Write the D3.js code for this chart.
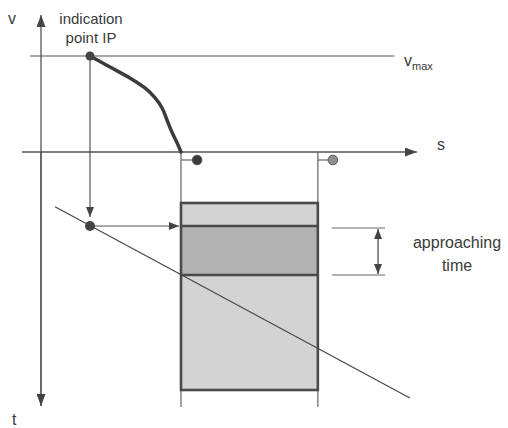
<!DOCTYPE html>
<html><head><meta charset="utf-8">
<script src="https://cdn.jsdelivr.net/npm/d3@7"></script>
<style>body{margin:0;background:#fff}svg{display:block}text{font-family:"Liberation Sans",Arial,sans-serif;fill:#3a3a3a}</style>
</head><body><svg id="c" width="508" height="428"></svg>
<script>
// ---- data (s: distance units, v: speed units, t: time units) ----
const vmax = 100;
const ipS = 14;                       // indication point position
const brakingCurveS = [14, 19.7, 25.4, 29.7, 32.6, 34.6, 36, 37.4, 38.9, 40];
const brakingCurveV = [100, 88.5, 77.1, 66.7, 56.3, 45.8, 33.3, 20.8, 9.4, 0];
const blockS = [40, 79.1];            // section start / end
const blockT = [20.4, 29.6, 49.2, 95.2]; // occupation top, approach start, approach end, bottom
const ipT = 29.6;
const timeLineS = [4, 105.4];
const timeLineT = [21.9, 98.4];
const markerS = [44.6, 83.4];
const markerT = 3.2;
const bracketS = [83.1, 98.3, 96.3];
const sAxisExtent = [-5.4, 107.4];
const vAxisTop = 142.7, tAxisBottom = 101.6;
const vmaxLineS = [-3.1, 101];
const edgeLineT = [0, 102];

const svg = d3.select("#c");
const x = d3.scaleLinear().domain([0, 100]).range([41, 391]);
const yv = d3.scaleLinear().domain([0, 100]).range([152, 56]);
const yt = d3.scaleLinear().domain([0, 100]).range([152, 402]);
const lc = "#555";

const defs = svg.append("defs");
function marker(id, w, h) {
  defs.append("marker").attr("id", id).attr("viewBox", `0 0 ${w} ${h}`)
    .attr("refX", w).attr("refY", h / 2).attr("markerWidth", w).attr("markerHeight", h)
    .attr("markerUnits", "userSpaceOnUse").attr("orient", "auto-start-reverse")
    .append("path").attr("d", `M0,0L${w},${h/2}L0,${h}Z`).attr("fill", "#444");
}
marker("ax", 12, 9);
marker("ar", 10, 8);

function line(x1, y1, x2, y2, w, col) {
  return svg.append("line").attr("x1", x1).attr("y1", y1).attr("x2", x2).attr("y2", y2)
    .attr("stroke", col || lc).attr("stroke-width", w || 1.2);
}

// block (occupation time) rectangle
const bx0 = x(blockS[0]), bx1 = x(blockS[1]);
svg.append("rect").attr("x", bx0).attr("y", yt(blockT[0])).attr("width", bx1 - bx0)
  .attr("height", yt(blockT[3]) - yt(blockT[0])).attr("fill", "#d3d3d3");
svg.append("rect").attr("x", bx0).attr("y", yt(blockT[1])).attr("width", bx1 - bx0)
  .attr("height", yt(blockT[2]) - yt(blockT[1])).attr("fill", "#b3b3b3");

// section edge lines
blockS.forEach(s => line(x(s), yt(edgeLineT[0]), x(s), yt(edgeLineT[1]), 1.2, "#666"));

// rectangle outlines
svg.append("rect").attr("x", bx0).attr("y", yt(blockT[0])).attr("width", bx1 - bx0)
  .attr("height", yt(blockT[3]) - yt(blockT[0])).attr("fill", "none").attr("stroke", "#4a4a4a").attr("stroke-width", 2.6);
[blockT[1], blockT[2]].forEach(t => line(bx0, yt(t), bx1, yt(t), 2.6, "#4a4a4a"));

// time line (diagonal)
line(x(timeLineS[0]), yt(timeLineT[0]), x(timeLineS[1]), yt(timeLineT[1]), 1.3, "#4a4a4a");

// axes
line(x(0), yt(tAxisBottom), x(0), yv(vAxisTop), 1.3).attr("marker-end", "url(#ax)");
line(x(0), yv(0), x(0), yt(tAxisBottom), 1.3).attr("marker-end", "url(#ax)");
line(x(sAxisExtent[0]), yv(0), x(sAxisExtent[1]), yv(0), 1.3).attr("marker-end", "url(#ax)");

// vmax line
line(x(vmaxLineS[0]), yv(vmax), x(vmaxLineS[1]), yv(vmax), 1.2);

// braking curve
svg.append("path").datum(brakingCurveS.map((s, i) => [s, brakingCurveV[i]]))
  .attr("d", d3.line().x(d => x(d[0])).y(d => yv(d[1])).curve(d3.curveCatmullRom))
  .attr("fill", "none").attr("stroke", "#3c3c3c").attr("stroke-width", 3.5).attr("stroke-linecap", "round");

// IP vertical arrow
line(x(ipS), yv(vmax), x(ipS), yt(ipT) - 9, 1.2).attr("marker-end", "url(#ar)");
// horizontal arrow from IP time point to block
line(x(ipS), yt(ipT), x(blockS[0]) - 2, yt(ipT), 1.2).attr("marker-end", "url(#ar)");

// IP dots
svg.append("circle").attr("cx", x(ipS)).attr("cy", yv(vmax)).attr("r", 4.5).attr("fill", "#444");
svg.append("circle").attr("cx", x(ipS)).attr("cy", yt(ipT)).attr("r", 5).attr("fill", "#444");

// section markers
markerS.forEach((s, i) => {
  line(x(blockS[i]), yt(markerT), x(s), yt(markerT), 1.2, "#666");
  svg.append("circle").attr("cx", x(s)).attr("cy", yt(markerT)).attr("r", 4.8)
    .attr("fill", i === 0 ? "#3a3a3a" : "#8f8f8f").attr("stroke", "#555").attr("stroke-width", 1);
});

// approaching time bracket
[blockT[1] + 0.8, blockT[2]].forEach(t => line(x(bracketS[0]), yt(t), x(bracketS[1]), yt(t), 1.2, "#666"));
line(x(bracketS[2]), yt(blockT[1] + 0.8) + 1, x(bracketS[2]), yt(blockT[2]) - 1, 1.2, "#444")
  .attr("marker-end", "url(#ar)").attr("marker-start", "url(#ar)");

// labels
const T = (tx, ty, str, size, anchor) => svg.append("text").attr("x", tx).attr("y", ty)
  .attr("font-size", size).attr("text-anchor", anchor || "start").text(str);
T(8, 24, "v", 16);
T(12, 425, "t", 16);
T(437, 150, "s", 16);
T(91, 24, "indication", 15, "middle");
T(91, 43, "point IP", 15, "middle");
const vm = T(404, 66, "v", 16);
vm.append("tspan").attr("font-size", 11).attr("dy", 4).text("max");
T(457, 248, "approaching", 16, "middle");
T(457, 271, "time", 16, "middle");
</script></body></html>
